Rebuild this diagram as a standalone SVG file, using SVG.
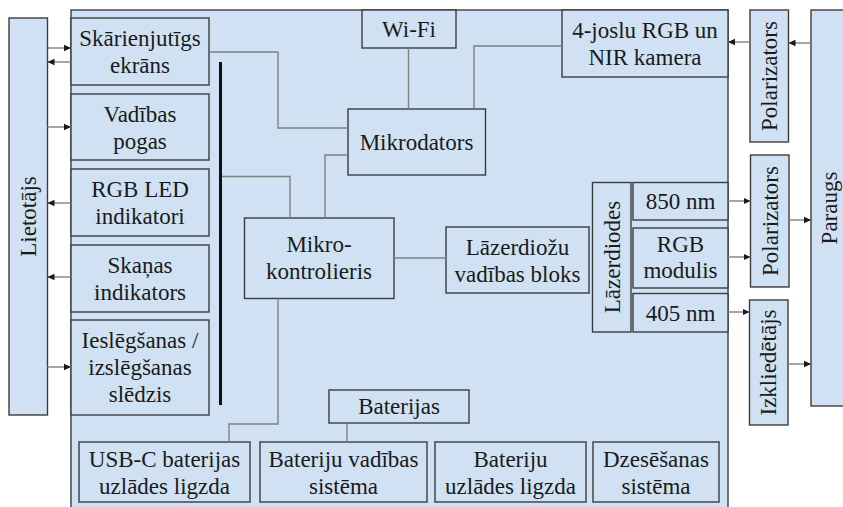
<svg xmlns="http://www.w3.org/2000/svg" width="843" height="507" viewBox="0 0 843 507" font-family="'Liberation Serif', 'DejaVu Serif', serif">
<defs>
<marker id="ah" markerWidth="8" markerHeight="8" refX="7" refY="4" orient="auto" markerUnits="userSpaceOnUse">
<path d="M0,0.8 L7,4 L0,7.2 Z" fill="#1a1a1a"/>
</marker>
<style>
.b{fill:#cfe1f3;stroke:#3c3c3c;stroke-width:1.4}
.t{font-family:'Liberation Serif','DejaVu Serif',serif;font-size:23px;fill:#1a1a1a;text-anchor:middle}
.c{fill:none;stroke:#7f8080;stroke-width:1.4}
.a{fill:none;stroke:#7f8080;stroke-width:1.4;marker-end:url(#ah)}
</style>
</defs>
<rect width="843" height="507" fill="#ffffff"/>
<rect id="container" x="71" y="10" width="657" height="510" class="b"/>

<g id="lietotajs"><rect x="9" y="18" width="38.5" height="397" class="b"/><text class="t" transform="translate(28,216.5) rotate(-90)" dominant-baseline="central">Lietotājs</text></g>

<g id="skarienjutigs"><rect x="71" y="18" width="138" height="67" class="b"/><text class="t" x="140" y="46">Skārienjutīgs</text><text class="t" x="140" y="73">ekrāns</text></g>
<g id="vadibas-pogas"><rect x="71" y="94" width="138" height="66" class="b"/><text class="t" x="140" y="121.5">Vadības</text><text class="t" x="140" y="148.5">pogas</text></g>
<g id="rgb-led"><rect x="71" y="169" width="138" height="67" class="b"/><text class="t" x="140" y="197">RGB LED</text><text class="t" x="140" y="224">indikatori</text></g>
<g id="skanas"><rect x="71" y="245" width="138" height="67" class="b"/><text class="t" x="140" y="273">Skaņas</text><text class="t" x="140" y="300">indikators</text></g>
<g id="ieslegsanas"><rect x="71" y="320" width="138" height="95" class="b"/><text class="t" x="140" y="348">Ieslēgšanas /</text><text class="t" x="140" y="375">izslēgšanas</text><text class="t" x="140" y="402">slēdzis</text></g>

<g id="bus"><line x1="220.5" y1="62" x2="220.5" y2="405" stroke="#111" stroke-width="3"/></g>

<g id="wifi"><rect x="362" y="10" width="94" height="38" class="b"/><text class="t" x="409" y="37">Wi-Fi</text></g>
<g id="kamera"><rect x="562" y="10" width="166" height="67" class="b"/><text class="t" x="645" y="38">4-joslu RGB un</text><text class="t" x="645" y="65">NIR kamera</text></g>
<g id="mikrodators"><rect x="348" y="109" width="137.5" height="66" class="b"/><text class="t" x="416.5" y="150">Mikrodators</text></g>
<g id="mikrokontrolieris"><rect x="244.5" y="218" width="149.5" height="80.5" class="b"/><text class="t" x="319" y="252">Mikro-</text><text class="t" x="319" y="279">kontrolieris</text></g>
<g id="lazer-bloks"><rect x="446" y="227" width="143" height="66" class="b"/><text class="t" x="517.5" y="254.5">Lāzerdiožu</text><text class="t" x="517.5" y="281.5">vadības bloks</text></g>
<g id="lazerdiodes"><rect x="592.5" y="182.5" width="38.5" height="149.5" class="b"/><text class="t" transform="translate(612,257) rotate(-90)" dominant-baseline="central">Lāzerdiodes</text></g>
<g id="nm850"><rect x="633" y="182.5" width="95" height="37.5" class="b"/><text class="t" x="680.5" y="209">850 nm</text></g>
<g id="rgb-modulis"><rect x="633" y="228" width="95" height="60" class="b"/><text class="t" x="680.5" y="252">RGB</text><text class="t" x="680.5" y="278">modulis</text></g>
<g id="nm405"><rect x="633" y="293.5" width="95" height="38.5" class="b"/><text class="t" x="680.5" y="320.5">405 nm</text></g>

<g id="polarizators1"><rect x="750" y="10" width="38.5" height="132" class="b"/><text class="t" transform="translate(769.5,76) rotate(-90)" dominant-baseline="central">Polarizators</text></g>
<g id="polarizators2"><rect x="750.5" y="155" width="38.5" height="132" class="b"/><text class="t" transform="translate(770,221) rotate(-90)" dominant-baseline="central">Polarizators</text></g>
<g id="izkliedetajs"><rect x="749.5" y="300" width="38.5" height="125" class="b"/><text class="t" transform="translate(768.5,362.5) rotate(-90)" dominant-baseline="central">Izkliedētājs</text></g>
<g id="paraugs"><rect x="811" y="10" width="40" height="396" class="b"/><text class="t" transform="translate(829,208) rotate(-90)" dominant-baseline="central">Paraugs</text></g>

<g id="baterijas"><rect x="329" y="390" width="140" height="33" class="b"/><text class="t" x="399" y="414">Baterijas</text></g>
<g id="usb-c"><rect x="79" y="442" width="171" height="60" class="b"/><text class="t" x="164.5" y="467">USB-C baterijas</text><text class="t" x="164.5" y="494">uzlādes ligzda</text></g>
<g id="bateriju-vadibas"><rect x="260" y="442" width="167" height="60" class="b"/><text class="t" x="343.5" y="467">Bateriju vadības</text><text class="t" x="343.5" y="494">sistēma</text></g>
<g id="bateriju-uzlades"><rect x="435" y="442" width="151" height="60" class="b"/><text class="t" x="510.5" y="467">Bateriju</text><text class="t" x="510.5" y="494">uzlādes ligzda</text></g>
<g id="dzesesanas"><rect x="593" y="442" width="126" height="60" class="b"/><text class="t" x="656" y="467">Dzesēšanas</text><text class="t" x="656" y="494">sistēma</text></g>

<g id="connectors">
<polyline class="c" points="209,52 278,52 278,128 348,128"/>
<polyline class="c" points="222,176.5 290,176.5 290,218"/>
<polyline class="c" points="325,218 325,155 348,155"/>
<line class="c" x1="408.5" y1="48" x2="408.5" y2="109"/>
<polyline class="c" points="474,109 474,46 562,46"/>
<line class="c" x1="394" y1="258" x2="446" y2="258"/>
<polyline class="c" points="229,442 229,424 278,424 278,298.5"/>
<line class="c" x1="347" y1="423" x2="347" y2="442"/>

<line class="a" x1="47.5" y1="48" x2="71" y2="48"/>
<line class="a" x1="71" y1="62" x2="47.5" y2="62"/>
<line class="a" x1="47.5" y1="127" x2="71" y2="127"/>
<line class="a" x1="71" y1="203" x2="47.5" y2="203"/>
<line class="a" x1="71" y1="277" x2="47.5" y2="277"/>
<line class="a" x1="47.5" y1="367" x2="71" y2="367"/>

<line class="a" x1="811" y1="43" x2="788.5" y2="43"/>
<line class="a" x1="750" y1="42" x2="728" y2="42"/>
<line class="a" x1="728" y1="201" x2="750.5" y2="201"/>
<line class="a" x1="728" y1="257" x2="750.5" y2="257"/>
<line class="a" x1="789" y1="220" x2="811" y2="220"/>
<line class="a" x1="728" y1="312" x2="749.5" y2="312"/>
<line class="a" x1="788" y1="364" x2="811" y2="364"/>
</g>
</svg>
